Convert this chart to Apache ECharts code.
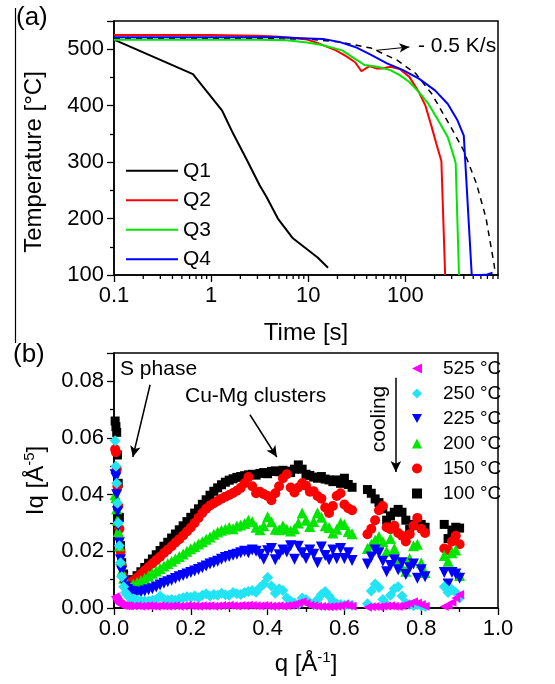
<!DOCTYPE html>
<html>
<head>
<meta charset="utf-8">
<script src="https://cdn.jsdelivr.net/npm/echarts@6/dist/echarts.min.js"></script>
<style>
html, body { margin: 0; padding: 0; background: #fff; }
#chart { width: 555px; height: 684px; }
</style>
</head>
<body>
<div id="chart"></div>
<script>
// panel (a): cooling curves, time [s] vs temperature [C]
var q1Time = [0.1, 0.65, 1.3, 1.68, 2.3, 3.16, 3.7, 4.87, 6.95, 9.5, 12.5, 16];
var q1Temp = [517, 456, 391, 351, 306, 259, 239, 200, 165, 147, 131, 113];

var q2Time = [0.1, 1, 3, 5, 7, 9.75, 13, 19.3, 25, 30.4, 35.3, 42.7, 50, 58, 70, 87.5, 110, 138, 161, 187, 209, 235, 257];
var q2Temp = [525, 525, 524, 522, 520, 517, 510, 498, 487, 477, 461, 470, 466, 466, 469, 465, 451, 424, 400, 362, 332, 302, 100];

var q3Time = [0.1, 1, 3, 6, 9.75, 14.2, 22.4, 30.4, 38, 51.6, 70, 87.5, 110, 138, 173, 218, 274, 318, 330, 357];
var q3Temp = [517, 517, 517, 516, 512, 507, 498, 483, 472, 469, 463, 454, 442, 424, 403, 374, 344, 308, 298, 100];

var q4Time = [0.1, 1, 5, 10, 14.2, 20.8, 30.4, 44.4, 64.7, 94.7, 138, 202, 274, 344, 400, 483, 600, 700, 760, 790];
var q4Temp = [521, 521, 521, 519, 518, 513, 504, 490, 475, 463, 448, 427, 403, 374, 347, 100, 100, 101, 103, 104];

var rateTime = [0.1, 1, 10, 20.8, 44.4, 81.5, 128, 187, 295, 400, 542, 677, 822, 840];
var rateTemp = [519, 519, 518, 513, 502, 481, 457, 421, 362, 320, 261, 201, 118, 103];

var logMinorTicks = [0.2, 0.3, 0.4, 0.5, 0.6, 0.7, 0.8, 0.9,
  2, 3, 4, 5, 6, 7, 8, 9,
  20, 30, 40, 50, 60, 70, 80, 90,
  200, 300, 400, 500, 600, 700, 800, 900];

// panel (b): Iq vs q for each temperature
var qVals = [
  0.003, 0.005, 0.007, 0.009, 0.011, 0.014, 0.017, 0.02, 0.025, 0.03, 0.035, 0.04,
  0.05, 0.06, 0.07, 0.08, 0.09, 0.10, 0.11, 0.12, 0.13, 0.14,
  0.15, 0.16, 0.17, 0.18, 0.19, 0.20, 0.21, 0.22, 0.23, 0.24,
  0.25, 0.26, 0.27, 0.28, 0.29, 0.30, 0.31, 0.32, 0.33, 0.34,
  0.35, 0.36, 0.37, 0.38, 0.39, 0.40, 0.41, 0.42, 0.43, 0.44,
  0.45, 0.46, 0.47, 0.48, 0.49, 0.50, 0.51, 0.52, 0.53, 0.54,
  0.55, 0.56, 0.57, 0.58, 0.59, 0.60, 0.61, 0.62,
  0.66, 0.67, 0.68, 0.69, 0.70, 0.71, 0.72, 0.73, 0.74, 0.75, 0.76, 0.77, 0.78, 0.79, 0.80, 0.81,
  0.86, 0.87, 0.88, 0.89, 0.90
];

var iq100 = [
  0.066, 0.064, 0.062, 0.054, 0.044, 0.032, 0.022, 0.016, 0.012, 0.0098, 0.0088, 0.0087,
  0.0100, 0.0114, 0.0128, 0.0143, 0.0158, 0.0173, 0.0188, 0.0203, 0.0218, 0.0232,
  0.0247, 0.0261, 0.0276, 0.0290, 0.0305, 0.0320, 0.0335, 0.0350, 0.0366, 0.0382,
  0.0398, 0.0412, 0.0424, 0.0435, 0.0444, 0.0451, 0.0456, 0.0461, 0.0464, 0.0467,
  0.0470, 0.0472, 0.0469, 0.0475, 0.0478, 0.0474, 0.0482, 0.0484, 0.0481, 0.0486,
  0.0483, 0.0478, 0.0490, 0.0505, 0.0490, 0.0472, 0.0468, 0.0462, 0.0458, 0.0464,
  0.0455, 0.0452, 0.0446, 0.0452, 0.0440, 0.0458, 0.0436, 0.0426,
  0.0418, 0.0405, 0.0385, 0.0372, 0.0350, 0.0310, 0.0325, 0.0338, 0.0348, 0.0338, 0.0310, 0.0278, 0.0295, 0.0308, 0.0295, 0.0285,
  0.0295, 0.0245, 0.0275, 0.0285, 0.0282
];

var iq150 = [
  0.056, 0.055, 0.049, 0.043, 0.036, 0.028, 0.020, 0.015, 0.011, 0.0093, 0.0085, 0.0084,
  0.0095, 0.0107, 0.0119, 0.0132, 0.0145, 0.0157, 0.0169, 0.0181, 0.0194, 0.0206,
  0.0218, 0.0231, 0.0243, 0.0256, 0.0270, 0.0284, 0.0300, 0.0318, 0.0335, 0.0350,
  0.0362, 0.0370, 0.0378, 0.0386, 0.0393, 0.0399, 0.0406, 0.0414, 0.0424, 0.0440,
  0.0462, 0.0430, 0.0405, 0.0410, 0.0402, 0.0395, 0.0380, 0.0405, 0.0430, 0.0458,
  0.0472, 0.0425, 0.0408, 0.0425, 0.0440, 0.0432, 0.0410, 0.0412, 0.0395, 0.0386,
  0.0355, 0.0335, 0.0360, 0.0395, 0.0405, 0.0365, 0.0352, 0.0345,
  0.0260, 0.0280, 0.0310, 0.0345, 0.0360, 0.0285, 0.0278, 0.0290, 0.0265, 0.0255, 0.0235, 0.0260, 0.0290, 0.0318, 0.0280, 0.0265,
  0.0210, 0.0205, 0.0235, 0.0255, 0.0225
];

var iq200 = [
  0.040, 0.039, 0.035, 0.031, 0.027, 0.022, 0.017, 0.013, 0.0105, 0.0088, 0.0080, 0.0078,
  0.0084, 0.0090, 0.0097, 0.0105, 0.0114, 0.0123, 0.0131, 0.0139, 0.0148, 0.0157,
  0.0165, 0.0174, 0.0182, 0.0191, 0.0200, 0.0209, 0.0217, 0.0226, 0.0234, 0.0243,
  0.0251, 0.0260, 0.0268, 0.0274, 0.0279, 0.0284, 0.0280, 0.0289, 0.0293, 0.0298,
  0.0310, 0.0304, 0.0285, 0.0276, 0.0290, 0.0322, 0.0304, 0.0278, 0.0276, 0.0290,
  0.0278, 0.0272, 0.0280, 0.0300, 0.0335, 0.0310, 0.0288, 0.0305, 0.0336, 0.0320,
  0.0290, 0.0284, 0.0265, 0.0278, 0.0300, 0.0295, 0.0270, 0.0262,
  0.0210, 0.0225, 0.0240, 0.0252, 0.0235, 0.0200, 0.0245, 0.0210, 0.0170, 0.0145, 0.0130, 0.0175, 0.0220, 0.0225, 0.0160, 0.0125,
  0.0185, 0.0165, 0.0195, 0.0205, 0.0115
];

var iq225 = [
  0.047, 0.046, 0.040, 0.034, 0.029, 0.023, 0.017, 0.013, 0.0095, 0.0075, 0.0065, 0.0060,
  0.0057, 0.0055, 0.0056, 0.0060, 0.0064, 0.0068, 0.0074, 0.0081, 0.0087, 0.0093,
  0.0098, 0.0104, 0.0110, 0.0115, 0.0120, 0.0125, 0.0131, 0.0136, 0.0142, 0.0148,
  0.0155, 0.0160, 0.0165, 0.0172, 0.0178, 0.0182, 0.0186, 0.0190, 0.0195, 0.0200,
  0.0195, 0.0205, 0.0200, 0.0190, 0.0172, 0.0202, 0.0210, 0.0170, 0.0188, 0.0205,
  0.0198, 0.0220, 0.0172, 0.0218, 0.0195, 0.0175, 0.0205, 0.0190, 0.0160, 0.0215,
  0.0185, 0.0170, 0.0205, 0.0175, 0.0210, 0.0175, 0.0195, 0.0168,
  0.0155, 0.0180, 0.0205, 0.0195, 0.0165, 0.0128, 0.0150, 0.0170, 0.0135, 0.0160, 0.0118, 0.0142, 0.0155, 0.0105, 0.0135, 0.0110,
  0.0125, 0.0085, 0.0125, 0.0120, 0.0105
];

var iq250 = [
  0.059, 0.050, 0.044, 0.037, 0.030, 0.022, 0.016, 0.011, 0.0075, 0.0055, 0.0045, 0.0037,
  0.0033, 0.0028, 0.0026, 0.0025, 0.0025, 0.0027, 0.0030, 0.0042, 0.0032, 0.0028,
  0.0030, 0.0027, 0.0033, 0.0036, 0.0040, 0.0038, 0.0042, 0.0036, 0.0045, 0.0050,
  0.0042, 0.0048, 0.0045, 0.0052, 0.0047, 0.0045, 0.0055, 0.0050, 0.0048, 0.0055,
  0.0058, 0.0062, 0.0056, 0.0072, 0.0085, 0.0108, 0.0078, 0.0052, 0.0068, 0.0062,
  0.0035, 0.0025, 0.0018, 0.0012, 0.0035, 0.0030, 0.0018, 0.0012, 0.0030, 0.0048,
  0.0058, 0.0042, 0.0025, 0.0015, 0.0012, 0.0010, 0.0012, 0.0010,
  0.0015, 0.0060, 0.0085, 0.0072, 0.0030, 0.0012, 0.0045, 0.0068, 0.0075, 0.0042, 0.0018, 0.0012, 0.0008, 0.0012, 0.0008, 0.0005,
  0.0075, 0.0055, 0.0065, 0.0055, 0.0035
];

var iq525 = [
  0.0040, 0.0035, 0.0030, 0.0025, 0.0020, 0.0015, 0.0012, 0.0010, 0.0009, 0.0008, 0.0008, 0.0007,
  0.0007, 0.0008, 0.0006, 0.0007, 0.0008, 0.0007, 0.0006, 0.0008, 0.0007, 0.0006,
  0.0007, 0.0008, 0.0006, 0.0007, 0.0009, 0.0008, 0.0007, 0.0006, 0.0008, 0.0007,
  0.0008, 0.0006, 0.0007, 0.0009, 0.0008, 0.0010, 0.0008, 0.0007, 0.0009, 0.0008,
  0.0010, 0.0009, 0.0008, 0.0007, 0.0009, 0.0008, 0.0006, 0.0007, 0.0008, 0.0006,
  0.0008, 0.0010, 0.0012, 0.0018, 0.0022, 0.0016, 0.0010, 0.0008, 0.0006, 0.0005,
  0.0005, 0.0004, 0.0005, 0.0006, 0.0008, 0.0012, 0.0009, 0.0006,
  0.0003, 0.0004, 0.0005, 0.0004, 0.0006, 0.0007, 0.0008, 0.0006, 0.0005, 0.0008, 0.0012, 0.0016, 0.0022, 0.0018, 0.0012, 0.0006,
  0.0005, 0.0010, 0.0020, 0.0035, 0.0048
];

var FONT = 'Liberation Sans, Arial, sans-serif';

function pairs(xs, ys) {
  return xs.map(function (x, i) { return [x, ys[i]]; });
}

var chart = echarts.init(document.getElementById('chart'));

var axisLineStyle = { color: '#000', width: 1.5 };
var tickStyle = { color: '#000', width: 1.3 };

function lineSeries(name, xs, ys, color) {
  return {
    name: name,
    type: 'line',
    xAxisIndex: 0,
    yAxisIndex: 0,
    data: pairs(xs, ys),
    symbol: 'none',
    showSymbol: false,
    lineStyle: { color: color, width: 2 },
    itemStyle: { color: color },
    z: 3
  };
}

function scatterSeries(name, ys, color, symbol, size) {
  return {
    name: name,
    type: 'scatter',
    xAxisIndex: 1,
    yAxisIndex: 1,
    data: pairs(qVals, ys),
    symbol: symbol,
    symbolSize: size,
    itemStyle: { color: color, opacity: 1 }
  };
}

var arrowLine = { color: '#000', width: 1.5, type: 'solid' };

var option = {
  animation: false,
  backgroundColor: '#fff',
  textStyle: { fontFamily: FONT },
  grid: [
    { left: 114, top: 21, width: 384, height: 254, show: true, borderColor: '#000', borderWidth: 1.5, backgroundColor: 'transparent' },
    { left: 114, top: 353, width: 384, height: 255, show: true, borderColor: '#000', borderWidth: 1.5, backgroundColor: 'transparent' }
  ],
  legend: [
    {
      data: ['Q1', 'Q2', 'Q3', 'Q4'],
      orient: 'vertical',
      left: 121,
      top: 151,
      icon: 'rect',
      itemWidth: 52,
      itemHeight: 2,
      itemGap: 0,
      textStyle: { fontSize: 21, lineHeight: 29.5, color: '#000', fontFamily: FONT }
    },
    {
      data: ['525 °C', '250 °C', '225 °C', '200 °C', '150 °C', '100 °C'],
      orient: 'vertical',
      left: 407,
      top: 351,
      itemWidth: 10,
      itemHeight: 10,
      itemGap: 0,
      textStyle: { fontSize: 19, lineHeight: 25, color: '#000', fontFamily: FONT, padding: [0, 0, 0, 16] }
    }
  ],
  xAxis: [
    {
      gridIndex: 0,
      type: 'log',
      logBase: 10,
      min: 0.1,
      max: 900,
      name: 'Time [s]',
      nameLocation: 'middle',
      nameGap: 46,
      nameTextStyle: { fontSize: 24, color: '#000', fontFamily: FONT },
      axisLine: { onZero: false, lineStyle: axisLineStyle },
      axisTick: { length: 7, lineStyle: tickStyle },
      axisLabel: {
        fontSize: 22, color: '#000', margin: 10, showMaxLabel: false,
        formatter: function (v) { return String(+v.toPrecision(3)); }
      },
      splitLine: { show: false }
    },
    {
      gridIndex: 1,
      type: 'value',
      min: 0,
      max: 1,
      interval: 0.2,
      name: 'q [Å{s|-1}]',
      nameLocation: 'middle',
      nameGap: 42,
      nameTextStyle: {
        fontSize: 24, color: '#000', fontFamily: FONT, lineHeight: 28,
        rich: { s: { fontSize: 15, lineHeight: 15, verticalAlign: 'top', color: '#000', fontFamily: FONT } }
      },
      axisLine: { onZero: false, lineStyle: axisLineStyle },
      axisTick: { length: 7, lineStyle: tickStyle },
      minorTick: { show: true, splitNumber: 2, length: 4, lineStyle: tickStyle },
      axisLabel: {
        fontSize: 22, color: '#000', margin: 10,
        formatter: function (v) { return v.toFixed(1); }
      },
      splitLine: { show: false }
    }
  ],
  yAxis: [
    {
      gridIndex: 0,
      type: 'value',
      min: 100,
      max: 550,
      interval: 100,
      name: 'Temperature [°C]',
      nameLocation: 'middle',
      nameGap: 68,
      nameTextStyle: { fontSize: 24, color: '#000', fontFamily: FONT, padding: [0, 28, 0, 0] },
      axisLine: { onZero: false, lineStyle: axisLineStyle },
      axisTick: { length: 7, lineStyle: tickStyle },
      minorTick: { show: true, splitNumber: 2, length: 4, lineStyle: tickStyle },
      axisLabel: { fontSize: 22, color: '#000', margin: 10, showMaxLabel: false },
      splitLine: { show: false }
    },
    {
      gridIndex: 1,
      type: 'value',
      min: 0,
      max: 0.09,
      interval: 0.02,
      name: 'Iq [Å{s|-5}]',
      nameLocation: 'middle',
      nameGap: 62,
      nameTextStyle: {
        fontSize: 24, color: '#000', fontFamily: FONT, lineHeight: 28,
        rich: { s: { fontSize: 15, lineHeight: 15, verticalAlign: 'top', color: '#000', fontFamily: FONT } }
      },
      axisLine: { onZero: false, lineStyle: axisLineStyle },
      axisTick: { length: 7, lineStyle: tickStyle },
      minorTick: { show: true, splitNumber: 2, length: 4, lineStyle: tickStyle },
      axisLabel: {
        fontSize: 22, color: '#000', margin: 10, showMaxLabel: false,
        formatter: function (v) { return v.toFixed(2); }
      },
      splitLine: { show: false }
    }
  ],
  series: [
    lineSeries('Q1', q1Time, q1Temp, '#000000'),
    lineSeries('Q2', q2Time, q2Temp, '#ff0000'),
    lineSeries('Q3', q3Time, q3Temp, '#00e600'),
    lineSeries('Q4', q4Time, q4Temp, '#0000ff'),
    {
      name: 'rate',
      type: 'line',
      xAxisIndex: 0,
      yAxisIndex: 0,
      data: pairs(rateTime, rateTemp),
      symbol: 'none',
      lineStyle: { color: '#000', width: 1.5, type: [6, 5] },
      z: 2,
      markLine: {
        silent: true,
        symbol: ['none', 'arrow'],
        symbolSize: [7, 10],
        lineStyle: { color: '#000', width: 1, type: 'solid' },
        label: { show: false },
        data: [[{ coord: [50, 498] }, { coord: [110, 504] }]]
      }
    },
    {
      // minor ticks of the log time axis
      type: 'custom',
      xAxisIndex: 0,
      yAxisIndex: 0,
      silent: true,
      clip: false,
      data: logMinorTicks.map(function (t) { return [t, 100]; }),
      renderItem: function (params, api) {
        var p = api.coord([api.value(0), api.value(1)]);
        return {
          type: 'line',
          shape: { x1: p[0], y1: p[1], x2: p[0], y2: p[1] + 4 },
          style: { stroke: '#000', lineWidth: 1.3 }
        };
      }
    },
    scatterSeries('100 °C', iq100, '#000000', 'rect', 9),
    scatterSeries('150 °C', iq150, '#ff0000', 'circle', 10),
    scatterSeries('200 °C', iq200, '#00e600', 'triangle', 11),
    scatterSeries('225 °C', iq225, '#0000ff', 'path://M0,0L10,0L5,9Z', 11),
    scatterSeries('250 °C', iq250, '#22e4f2', 'diamond', 11),
    Object.assign(scatterSeries('525 °C', iq525, '#ff00ff', 'path://M10,0L10,10L0,5Z', 9), {
      markLine: {
        silent: true,
        symbol: ['none', 'arrow'],
        symbolSize: [8, 11],
        lineStyle: arrowLine,
        label: { show: false },
        data: [
          [{ coord: [0.094, 0.0788] }, { coord: [0.049, 0.0533] }],
          [{ coord: [0.354, 0.0682] }, { coord: [0.424, 0.0533] }],
          [{ coord: [0.734, 0.0813] }, { coord: [0.734, 0.0480] }]
        ]
      }
    })
  ],
  graphic: [
    { type: 'line', shape: { x1: 15.5, y1: 8, x2: 15.5, y2: 343 }, style: { stroke: '#000', lineWidth: 1.2 } },
    { type: 'text', x: 16, y: 18, style: { text: '(a)', font: '26px ' + FONT, fill: '#000', verticalAlign: 'middle' } },
    { type: 'text', x: 13, y: 355, style: { text: '(b)', font: '26px ' + FONT, fill: '#000', verticalAlign: 'middle' } },
    { type: 'text', x: 418, y: 46, style: { text: '- 0.5 K/s', font: '21px ' + FONT, fill: '#000', verticalAlign: 'middle' } },
    { type: 'text', x: 120, y: 369, style: { text: 'S phase', font: '21px ' + FONT, fill: '#000', verticalAlign: 'middle' } },
    { type: 'text', x: 185, y: 396, style: { text: 'Cu-Mg clusters', font: '21px ' + FONT, fill: '#000', verticalAlign: 'middle' } },
    { type: 'text', x: 379, y: 419, rotation: Math.PI / 2, style: { text: 'cooling', font: '21px ' + FONT, fill: '#000', align: 'center', verticalAlign: 'middle' } }
  ]
};

chart.setOption(option);
</script>
</body>
</html>
